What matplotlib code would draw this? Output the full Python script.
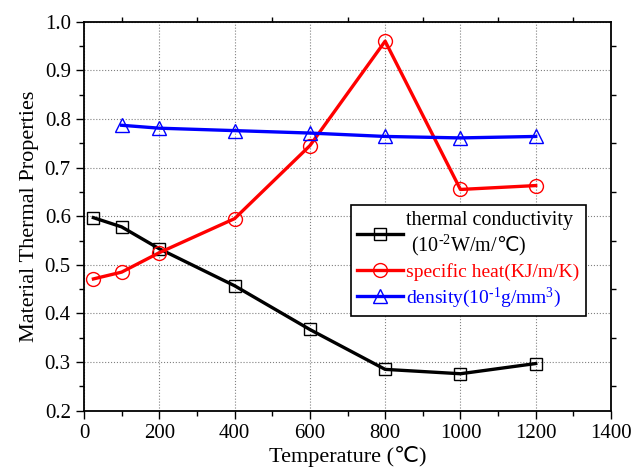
import matplotlib
matplotlib.use("Agg")
import matplotlib.pyplot as plt
from matplotlib.ticker import MultipleLocator

plt.rcParams['font.family'] = ['Liberation Serif', 'DejaVu Sans']
plt.rcParams['mathtext.fontset'] = 'custom'
plt.rcParams['mathtext.rm'] = 'Liberation Serif'
plt.rcParams['mathtext.it'] = 'Liberation Serif:italic'
plt.rcParams['mathtext.sf'] = 'DejaVu Sans'

temp_k = [25, 100, 200, 400, 600, 800, 1000, 1200]
conductivity = [0.597, 0.578, 0.533, 0.457, 0.367, 0.285, 0.276, 0.297]
temp_c = [25, 100, 200, 400, 600, 800, 1000, 1200]
specific_heat = [0.471, 0.485, 0.525, 0.595, 0.745, 0.960, 0.655, 0.663]
temp_d = [100, 200, 400, 600, 800, 1000, 1200]
density = [0.787, 0.781, 0.776, 0.771, 0.764, 0.761, 0.764]

W, H = 641, 468
L, R, T, B = 84, 611, 21.7, 410.7
fig = plt.figure(figsize=(W/100, H/100), dpi=100)
ax = fig.add_axes([L/W, 1-B/H, (R-L)/W, (B-T)/H])

ax.plot(temp_k, conductivity, color='black', lw=2.4, marker='s', ms=9,
        mfc='none', mec='black', mew=1,
        label='thermal conductivity\n (10$^{\\text{-}2}$W/m/$\\mathsf{\u2103}$)')
ax.plot(temp_c, specific_heat, color='red', lw=2.4, marker='o', ms=10,
        mfc='none', mec='red', mew=1, label='specific heat(KJ/m/K)')
ax.plot(temp_d, density, color='blue', lw=2.4, marker='^', ms=10,
        mfc='none', mec='blue', mew=1,
        label='density(10$^{\\text{-}1}$g/mm$^{3}$)')

ax.set_xlim(0, 1400)
ax.set_ylim(0.2, 1.0)
ax.xaxis.set_major_locator(MultipleLocator(200))
ax.xaxis.set_minor_locator(MultipleLocator(100))
ax.yaxis.set_major_locator(MultipleLocator(0.1))
ax.yaxis.set_minor_locator(MultipleLocator(0.05))
ax.tick_params(which='both', direction='out', labelsize=15, width=1)
ax.tick_params(which='major', length=6)
ax.tick_params(which='minor', length=3.5)
ax.tick_params(which='major', top=False, right=False)
ax.tick_params(which='minor', top=True, right=True)
ax.grid(True, which='major', ls=':', color='gray', lw=0.8)
for s in ax.spines.values():
    s.set_linewidth(1.3)

ax.set_xlabel('Temperature (\u2103)', fontsize=16, labelpad=2)
ax.set_ylabel('Material Thermal Properties', fontsize=16)

ax_w = R - L
ax_h = B - T
leg = ax.legend(loc='upper left', bbox_to_anchor=((351-L)/ax_w, (B-204.5)/ax_h),
                borderaxespad=0, fontsize=14.5,
                frameon=True, fancybox=False, edgecolor='black', framealpha=1,
                handlelength=2.3, borderpad=0.3, labelspacing=0.22,
                handletextpad=0.15)
leg.get_frame().set_linewidth(1.2)
sizes = [14.5, 14.0, 14.0]
for t, c, s in zip(leg.get_texts(), ['black', 'red', 'blue'], sizes):
    t.set_color(c)
    t.set_fontsize(s)
    t.set_multialignment('left')

fig.savefig('out.png', dpi=100)
